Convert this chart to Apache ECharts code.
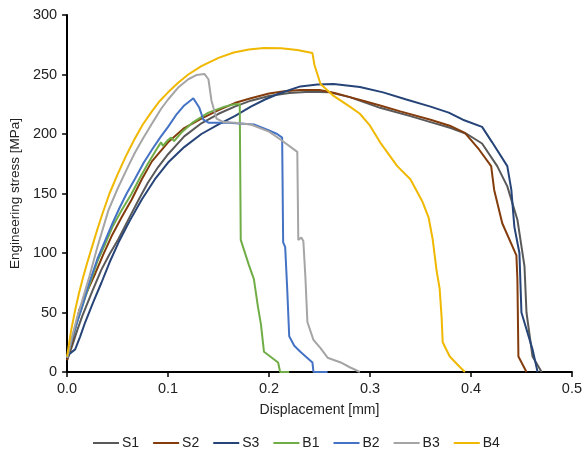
<!DOCTYPE html>
<html>
<head>
<meta charset="utf-8">
<script src="https://cdn.jsdelivr.net/npm/echarts@6/dist/echarts.min.js"></script>
<style>
  html, body { margin: 0; padding: 0; background: #fff; }
  #chart { width: 585px; height: 460px; }
</style>
</head>
<body>
<div id="chart"></div>
<script>
// displacement [mm], stress [MPa] pairs
const S1 = [[0,10],[0.005,22],[0.01,35],[0.015,47],[0.025,68],[0.034,86],[0.042,99],[0.051,112],[0.06,127],[0.071,145],[0.08,159],[0.09,172],[0.1,183],[0.116,198],[0.133,209],[0.15,217],[0.166,223],[0.182,228],[0.2,232],[0.22,234.5],[0.24,235.5],[0.26,235],[0.28,231],[0.31,222],[0.34,215],[0.36,210],[0.38,205],[0.396,200],[0.411,192],[0.426,173],[0.436,156],[0.446,128],[0.453,89],[0.455,50],[0.461,13],[0.47,0]];
const S2 = [[0,10],[0.005,25],[0.012,52],[0.02,68],[0.028,83],[0.036,99],[0.044,114],[0.054,130],[0.064,145],[0.074,162],[0.084,177],[0.1,193],[0.116,205],[0.133,213],[0.15,220],[0.166,226],[0.182,230],[0.2,234],[0.215,236],[0.231,237],[0.25,237],[0.265,234.5],[0.28,231],[0.295,227.5],[0.31,224],[0.33,219],[0.36,212],[0.379,207],[0.394,201],[0.408,187],[0.42,173],[0.423,153],[0.431,125],[0.445,98],[0.446,78],[0.447,13],[0.455,0]];
const S3 = [[0,12],[0.002,15],[0.008,19],[0.013,30],[0.018,42],[0.026,59],[0.034,75],[0.042,92],[0.051,109],[0.062,127],[0.074,145],[0.087,162],[0.1,176],[0.116,189],[0.133,200],[0.15,208],[0.166,215],[0.182,223],[0.196,229],[0.21,234],[0.231,240],[0.248,241.5],[0.264,242],[0.29,239.5],[0.313,235],[0.336,229],[0.36,223],[0.378,218],[0.392,212],[0.411,206],[0.421,193],[0.436,173],[0.44,153],[0.443,122],[0.448,100],[0.45,50],[0.461,19],[0.466,0]];
const B1 = [[0,12],[0.005,28],[0.01,42],[0.015,55],[0.022,73],[0.03,93],[0.038,108],[0.045,122],[0.054,136],[0.064,150],[0.072,163],[0.08,175],[0.09,189],[0.093,193],[0.095,190],[0.097,192],[0.1,195],[0.103,197],[0.106,194],[0.113,201],[0.125,210],[0.14,218],[0.156,223],[0.166,225],[0.171,225],[0.172,111],[0.18,90],[0.185,78],[0.189,55],[0.192,40],[0.195,17],[0.209,8],[0.211,0],[0.22,0]];
const B2 = [[0,12],[0.005,28],[0.01,42],[0.015,55],[0.022,75],[0.03,95],[0.038,111],[0.045,125],[0.052,138],[0.059,150],[0.067,162],[0.076,176],[0.085,188],[0.093,198],[0.1,206],[0.108,216],[0.116,224],[0.125,230],[0.128,226],[0.131,222],[0.135,212],[0.14,209.5],[0.16,209.5],[0.185,208],[0.2,203],[0.208,200],[0.213,197],[0.214,109],[0.216,105],[0.218,70],[0.22,30],[0.225,22],[0.231,17],[0.243,8],[0.244,0],[0.258,0]];
const B3 = [[0,12],[0.005,30],[0.01,46],[0.015,60],[0.022,80],[0.03,105],[0.041,136],[0.05,154],[0.06,172],[0.067,184],[0.075,196],[0.085,210],[0.093,221],[0.1,229],[0.11,239],[0.12,246],[0.128,249.5],[0.136,250.5],[0.14,246],[0.143,228],[0.148,213],[0.155,210],[0.166,209.5],[0.182,208],[0.2,202],[0.212,195],[0.228,185],[0.229,111],[0.232,113],[0.234,110],[0.236,80],[0.238,42],[0.244,27],[0.251,20],[0.258,12],[0.271,8],[0.28,4],[0.29,0]];
const B4 = [[0,13],[0.004,35],[0.008,52],[0.012,67],[0.016,80],[0.02,92],[0.025,106],[0.03,120],[0.035,133],[0.042,150],[0.05,166],[0.058,181],[0.067,196],[0.075,208],[0.084,219],[0.092,228],[0.1,235],[0.11,243],[0.12,250],[0.133,257],[0.15,264],[0.165,268.5],[0.18,271],[0.195,272.3],[0.212,272],[0.228,270.5],[0.243,268],[0.245,258],[0.248,250],[0.251,242],[0.264,232],[0.28,223],[0.29,217],[0.3,207],[0.31,193],[0.327,173],[0.34,162],[0.352,143],[0.358,130],[0.362,112],[0.366,85],[0.369,70],[0.371,45],[0.372,25],[0.379,13],[0.388,5],[0.394,0]];

const names = ['S1', 'S2', 'S3', 'B1', 'B2', 'B3', 'B4'];
const curves = [S1, S2, S3, B1, B2, B3, B4];
const colors = ['#595959', '#843c0c', '#264478', '#70ad47', '#4472c4', '#a5a5a5', '#f0b800'];

const font = 'Liberation Sans, Arial, sans-serif';

let myChart = echarts.init(document.getElementById('chart'), null, {renderer: 'canvas'});

myChart.setOption({
  animation: false,
  color: colors,
  grid: { left: 65, right: 12, top: 15, bottom: 88 },
  legend: {
    top: 431,
    left: 88,
    itemWidth: 26,
    itemHeight: 2,
    itemGap: 14,
    icon: 'rect',
    textStyle: { fontFamily: font, fontSize: 14, color: '#222', padding: [0, 0, 0, -2] },
    data: names
  },
  xAxis: {
    type: 'value',
    min: 0, max: 0.5, interval: 0.1,
    name: 'Displacement [mm]',
    nameLocation: 'middle',
    nameGap: 31,
    nameTextStyle: { fontFamily: font, fontSize: 14, color: '#222' },
    axisLine: { lineStyle: { color: '#000', width: 2 } },
    axisTick: { show: true, length: 5, lineStyle: { color: '#000', width: 1.5 } },
    axisLabel: { fontFamily: font, fontSize: 14.5, color: '#222', margin: 9, formatter: v => v.toFixed(1) },
    splitLine: { show: false }
  },
  yAxis: {
    type: 'value',
    min: 0, max: 300, interval: 50,
    name: 'Engineering stress [MPa]',
    nameLocation: 'middle',
    nameGap: 42,
    nameTextStyle: { fontFamily: font, fontSize: 13.5, color: '#222' },
    axisLine: { show: true, lineStyle: { color: '#000', width: 2 } },
    axisTick: { show: true, length: 5, lineStyle: { color: '#000', width: 1.5 } },
    axisLabel: { fontFamily: font, fontSize: 14.5, color: '#222', margin: 10 },
    splitLine: { show: false }
  },
  series: names.map((n, i) => ({
    name: n,
    type: 'line',
    data: curves[i],
    showSymbol: false,
    symbol: 'none',
    lineStyle: { width: 2, color: colors[i] },
    itemStyle: { color: colors[i] }
  }))
});
</script>
</body>
</html>
